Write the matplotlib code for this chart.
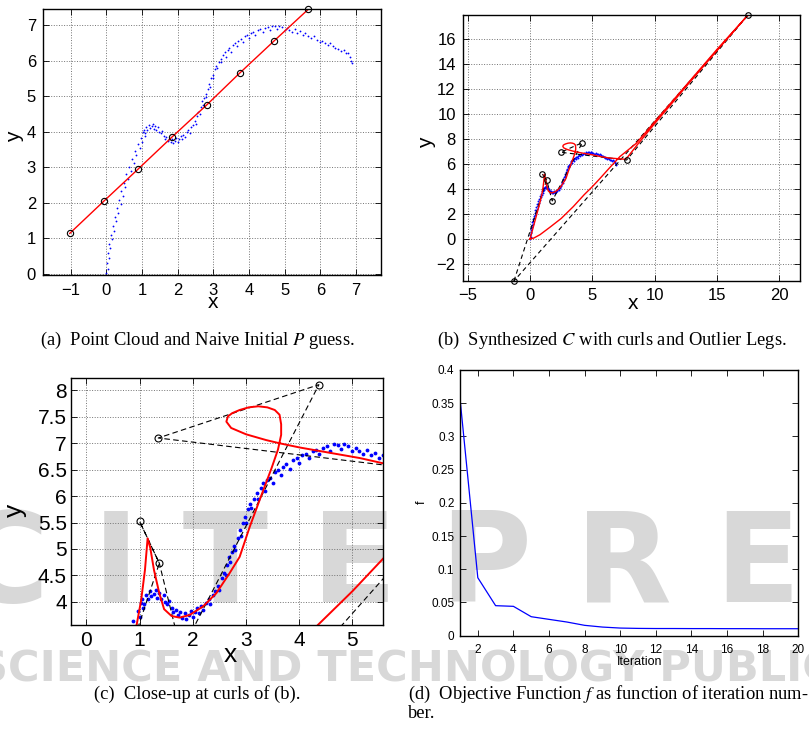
import matplotlib
matplotlib.use('Agg')
import matplotlib.pyplot as plt
from matplotlib.ticker import FixedLocator, FixedFormatter, FormatStrFormatter

plt.rcParams['font.family'] = ['Liberation Sans', 'DejaVu Sans']
plt.rcParams['mathtext.fontset'] = 'stix'
plt.rcParams['axes.unicode_minus'] = True

# ---------------- data ----------------
# point cloud (shared by a, b, c)
cloud_x = [0.00, 0.04, 0.01, 0.07, 0.04, 0.11, 0.07, 0.15, 0.12, 0.21, 0.18, 0.27, 0.24, 0.33, 0.30,
           0.40, 0.36, 0.46, 0.42, 0.53, 0.49, 0.60, 0.56, 0.68, 0.64, 0.76, 0.72, 0.84, 0.80, 0.93,
           0.88, 1.00, 0.96, 1.07, 1.03,
           1.05, 1.08, 1.12, 1.15, 1.20, 1.22, 1.27, 1.30, 1.33, 1.37, 1.40, 1.45, 1.48, 1.52, 1.55,
           1.60, 1.63, 1.68, 1.72, 1.76, 1.80, 1.85, 1.88, 1.92, 1.96, 2.00, 2.04, 2.08, 2.12, 2.16,
           2.20, 2.25, 2.30, 2.33, 2.38, 2.42, 2.47, 2.50, 2.55, 2.58, 2.62, 2.65, 2.68, 2.70, 2.74,
           2.78, 2.80, 2.84, 2.88, 2.90, 2.94, 2.98, 3.00, 3.04, 3.08, 3.10, 3.15, 3.20, 3.22, 3.28,
           3.32, 3.35, 3.40, 3.45, 3.50, 3.55, 3.60, 3.65, 3.70, 3.76, 3.82, 3.88, 3.95, 4.00, 4.06,
           4.12, 4.18, 4.25, 4.32, 4.38, 4.45, 4.52, 4.58, 4.65, 4.72, 4.78, 4.85, 4.92, 5.00, 5.06,
           5.12, 5.20, 5.28, 5.35, 5.42, 5.50, 5.58, 5.66, 5.75, 5.82, 5.90, 5.98, 6.05, 6.12, 6.20,
           6.28, 6.35, 6.42, 6.50, 6.58, 6.65, 6.72, 6.78, 6.82, 6.86, 6.90]
cloud_y = [0.02, 0.15, 0.30, 0.45, 0.60, 0.72, 0.85, 0.98, 1.10, 1.22, 1.36, 1.48, 1.60, 1.72, 1.85,
           1.96, 2.08, 2.20, 2.32, 2.44, 2.56, 2.68, 2.80, 2.90, 3.02, 3.12, 3.24, 3.34, 3.45, 3.55,
           3.64, 3.72, 3.82, 3.88, 3.98,
           4.05, 3.95, 4.12, 4.05, 4.20, 4.10, 4.15, 4.22, 4.08, 4.16, 4.05, 4.12, 4.00, 3.95, 4.02,
           3.88, 3.80, 3.85, 3.74, 3.80, 3.70, 3.78, 3.68, 3.75, 3.82, 3.72, 3.80, 3.88, 3.78, 3.92,
           3.85, 3.98, 4.05, 3.95, 4.12, 4.20, 4.30, 4.22, 4.45, 4.55, 4.50, 4.70, 4.85, 4.75, 4.95,
           5.05, 4.98, 5.20, 5.35, 5.25, 5.50, 5.60, 5.50, 5.75, 5.85, 5.78, 5.95, 6.05, 5.95, 6.15,
           6.25, 6.10, 6.30, 6.35, 6.25, 6.45, 6.50, 6.40, 6.55, 6.60, 6.52, 6.68, 6.72, 6.62, 6.78,
           6.80, 6.72, 6.85, 6.88, 6.80, 6.92, 6.95, 6.86, 6.98, 6.96, 6.90, 6.98, 6.94, 6.86, 6.92,
           6.85, 6.80, 6.88, 6.78, 6.82, 6.72, 6.78, 6.70, 6.62, 6.68, 6.58, 6.52, 6.56, 6.48, 6.45,
           6.50, 6.40, 6.35, 6.32, 6.28, 6.30, 6.22, 6.20, 6.10, 6.00, 5.92]

# (a) naive initial control polygon
naive_x = [-1.03, -0.07, 0.89, 1.85, 2.81, 3.74, 4.70, 5.66]
naive_y = [1.14, 2.05, 2.95, 3.86, 4.75, 5.65, 6.55, 7.44]

# (b) / (c) control points
ctrl_b_x = [-1.29, 0.98, 1.33, 1.78, 4.19, 2.46, 7.74, 17.5]
ctrl_b_y = [-3.36, 5.21, 4.73, 3.05, 7.72, 6.95, 6.33, 17.97]
ctrl_c_x = [-1.29, 1.00, 1.37, 1.78, 4.37, 1.35, 7.74, 17.5]
ctrl_c_y = [-3.36, 5.52, 4.73, 3.05, 8.11, 7.10, 6.33, 17.97]
# order in which the dashed control polygon visits the points (closed)
ctrl_order = [0, 2, 1, 2, 3, 4, 5, 6, 7, 0]

# synthesized closed curve C
curve_x = [0.00, 0.30, 0.60, 0.80, 0.94, 1.03, 1.10, 1.15, 1.20, 1.27, 1.37, 1.46, 1.60, 1.75,
           1.94, 2.19, 2.44, 2.69, 2.88, 3.07, 3.18, 3.29, 3.48, 3.60, 3.66, 3.66, 3.63, 3.54,
           3.40, 3.23, 3.05, 2.88, 2.74, 2.66, 2.63, 2.72, 3.00, 3.38, 3.63, 4.01, 4.63, 5.14,
           5.58, 6.30, 7.00, 7.60, 7.85,
           8.60, 10.0, 12.5, 15.0, 17.5,
           15.0, 12.5, 10.0, 8.50, 7.20, 6.30, 5.58, 5.00, 4.35, 3.47, 2.50, 1.60, 0.80, 0.30, 0.00]
curve_y = [0.00, 1.10, 2.20, 2.95, 3.54, 4.04, 4.60, 5.20, 5.02, 4.60, 4.16, 3.86, 3.73, 3.70,
           3.75, 3.91, 4.16, 4.54, 4.85, 5.42, 5.72, 6.02, 6.53, 6.88, 7.16, 7.36, 7.54, 7.63,
           7.68, 7.70, 7.68, 7.63, 7.57, 7.51, 7.41, 7.29, 7.17, 7.06, 7.00, 6.92, 6.81, 6.72,
           6.62, 6.50, 6.44, 6.39, 6.60,
           7.55, 9.25, 12.2, 15.1, 17.97,
           15.2, 12.3, 9.40, 7.65, 6.60, 5.62, 4.82, 4.20, 3.56, 2.60, 1.65, 0.95, 0.35, 0.08, 0.00]

# (d) objective function
iterations = list(range(1, 21))
f_values = [0.357, 0.0873, 0.0452, 0.0442, 0.0286, 0.0246, 0.0206, 0.0156, 0.0130, 0.0115,
            0.0110, 0.0108, 0.0108, 0.0107, 0.0107, 0.0106, 0.0106, 0.0105, 0.0105, 0.0105]

a_xticks = [-1, 0, 1, 2, 3, 4, 5, 6, 7]
a_yticks = [0, 1, 2, 3, 4, 5, 6, 7]
b_xticks = [-5, 0, 5, 10, 15, 20]
b_yticks = [-2, 0, 2, 4, 6, 8, 10, 12, 14, 16]
c_xticks = [0, 1, 2, 3, 4, 5]
c_yticks = [4, 4.5, 5, 5.5, 6, 6.5, 7, 7.5, 8]
d_xticks = [2, 4, 6, 8, 10, 12, 14, 16, 18, 20]
d_yticks = [0, 0.05, 0.1, 0.15, 0.2, 0.25, 0.3, 0.35, 0.4]
d_ytick_labels = ['0', '0.05', '0.1', '0.15', '0.2', '0.25', '0.3', '0.35', '0.4']

# ---------------- figure ----------------
W, H = 809, 729
fig = plt.figure(figsize=(W / 100, H / 100), dpi=100)


def box(l, t, r, b):
    return [l / W, 1 - b / H, (r - l) / W, (b - t) / H]


# faint publisher watermark (behind everything)
wm = '#d8d8d8'
fig.text(446 / W, 1 - 567 / H, 'S C I T E P R E S S', fontsize=90, fontweight='bold',
         family='DejaVu Sans', color=wm, ha='center', va='center', zorder=-5)
fig.text(495 / W, 1 - 669 / H, 'SCIENCE AND TECHNOLOGY PUBLICATIONS', fontsize=31,
         fontweight='bold', family='DejaVu Sans', color=wm, ha='center', va='center', zorder=-5)


def style(ax, tsize, grid=True):
    ax.set_facecolor('none')
    ax.tick_params(direction='in', top=True, right=True, length=4, width=0.6,
                   labelsize=tsize, colors='black')
    for s in ax.spines.values():
        s.set_linewidth(1.0)
    if grid:
        ax.grid(True, linestyle=':', color='0.45', linewidth=0.7)


def ordered(vals):
    return [vals[i] for i in ctrl_order]


# ---- (a)
axa = fig.add_axes(box(43, 9.3, 381, 275))
style(axa, 12)
axa.plot(cloud_x, cloud_y, '.', color='blue', markersize=2.6, markeredgewidth=0)
axa.plot(naive_x, naive_y, '-', color='red', linewidth=1.0)
axa.plot(naive_x, naive_y, 'o', mfc='none', mec='black', markersize=4.5, markeredgewidth=0.8,
         clip_on=False)
axa.set_xlim(-1.78, 7.7)
axa.set_ylim(-0.03, 7.44)
axa.set_xticks(a_xticks)
axa.set_yticks(a_yticks)
axa.tick_params(axis='x', pad=6)
axa.tick_params(axis='y', pad=5)
axa.set_xlabel('x', fontsize=15)
axa.set_ylabel('y', fontsize=15)
axa.xaxis.set_label_coords(0.503, -0.105)
axa.yaxis.set_label_coords(-0.083, 0.519)
axa.xaxis.label.set_va('center')
axa.yaxis.label.set_va('center')

# ---- (b)
axb = fig.add_axes(box(462.7, 14.7, 800, 281))
style(axb, 12)
axb.plot(cloud_x, cloud_y, '.', color='blue', markersize=2.8, markeredgewidth=0)
axb.plot(ordered(ctrl_b_x), ordered(ctrl_b_y), '--', color='black', linewidth=0.8, dashes=(4, 3))
axb.plot(curve_x, curve_y, '-', color='red', linewidth=1.0)
axb.plot(ctrl_b_x, ctrl_b_y, 'o', mfc='none', mec='black', markersize=4, markeredgewidth=0.8,
         clip_on=False)
axb.set_xlim(-5.4, 21.65)
axb.set_ylim(-3.36, 17.97)
axb.set_xticks(b_xticks)
axb.set_yticks(b_yticks)
axb.tick_params(axis='x', pad=5)
axb.tick_params(axis='y', pad=5)
axb.set_xlabel('x', fontsize=15)
axb.set_ylabel('y', fontsize=15)
axb.xaxis.set_label_coords(0.505, -0.083)
axb.yaxis.set_label_coords(-0.106, 0.518)
axb.xaxis.label.set_va('center')
axb.yaxis.label.set_va('center')

# ---- (c)
axc = fig.add_axes(box(71, 378.3, 383.3, 625))
style(axc, 15)
axc.plot(cloud_x, cloud_y, '.', color='blue', markersize=5.5, markeredgewidth=0)
axc.plot(ordered(ctrl_c_x), ordered(ctrl_c_y), '--', color='black', linewidth=0.8, dashes=(5, 3))
axc.plot(curve_x, curve_y, '-', color='red', linewidth=1.4)
axc.plot(ctrl_c_x, ctrl_c_y, 'o', mfc='none', mec='black', markersize=5, markeredgewidth=0.8)
axc.set_xlim(-0.29, 5.58)
axc.set_ylim(3.56, 8.23)
axc.set_xticks(c_xticks)
axc.set_yticks(c_yticks)
axc.yaxis.set_major_formatter(FormatStrFormatter('%g'))
axc.tick_params(axis='x', pad=4)
axc.tick_params(axis='y', pad=3)
axc.set_xlabel('x', fontsize=19)
axc.set_ylabel('y', fontsize=19)
axc.xaxis.set_label_coords(0.509, -0.122)
axc.yaxis.set_label_coords(-0.179, 0.466)
axc.xaxis.label.set_va('center')
axc.yaxis.label.set_va('center')

# ---- (d)
axd = fig.add_axes(box(460, 370, 798.3, 635.7))
style(axd, 8.5, grid=False)
axd.plot(iterations, f_values, '-', color='blue', linewidth=0.9)
axd.set_xlim(1, 20)
axd.set_ylim(0, 0.4)
axd.set_xticks(d_xticks)
axd.yaxis.set_major_locator(FixedLocator(d_yticks))
axd.yaxis.set_major_formatter(FixedFormatter(d_ytick_labels))
axd.tick_params(axis='x', pad=6)
axd.tick_params(axis='y', pad=4)
axd.set_xlabel('Iteration', fontsize=9)
axd.set_ylabel('f', fontsize=9)
axd.xaxis.set_label_coords(0.532, -0.099)
axd.yaxis.set_label_coords(-0.113, 0.504)
axd.xaxis.label.set_va('center')
axd.yaxis.label.set_va('center')

# ---- captions
cap = dict(family=['Liberation Serif', 'DejaVu Serif'], fontsize=13.3, va='center', color='black')
fig.text(197 / W, 1 - 340 / H, '(a)  Point Cloud and Naive Initial $P$ guess.', ha='center', **cap)
fig.text(612 / W, 1 - 340 / H, '(b)  Synthesized $C$ with curls and Outlier Legs.', ha='center', **cap)
fig.text(197.5 / W, 1 - 694 / H, '(c)  Close-up at curls of (b).', ha='center', **cap)
fig.text(408 / W, 1 - 694 / H, '(d)  Objective Function $f$ as function of iteration num-',
         ha='left', **cap)
fig.text(408 / W, 1 - 713 / H, 'ber.', ha='left', **cap)

fig.savefig('out.png', dpi=100)
